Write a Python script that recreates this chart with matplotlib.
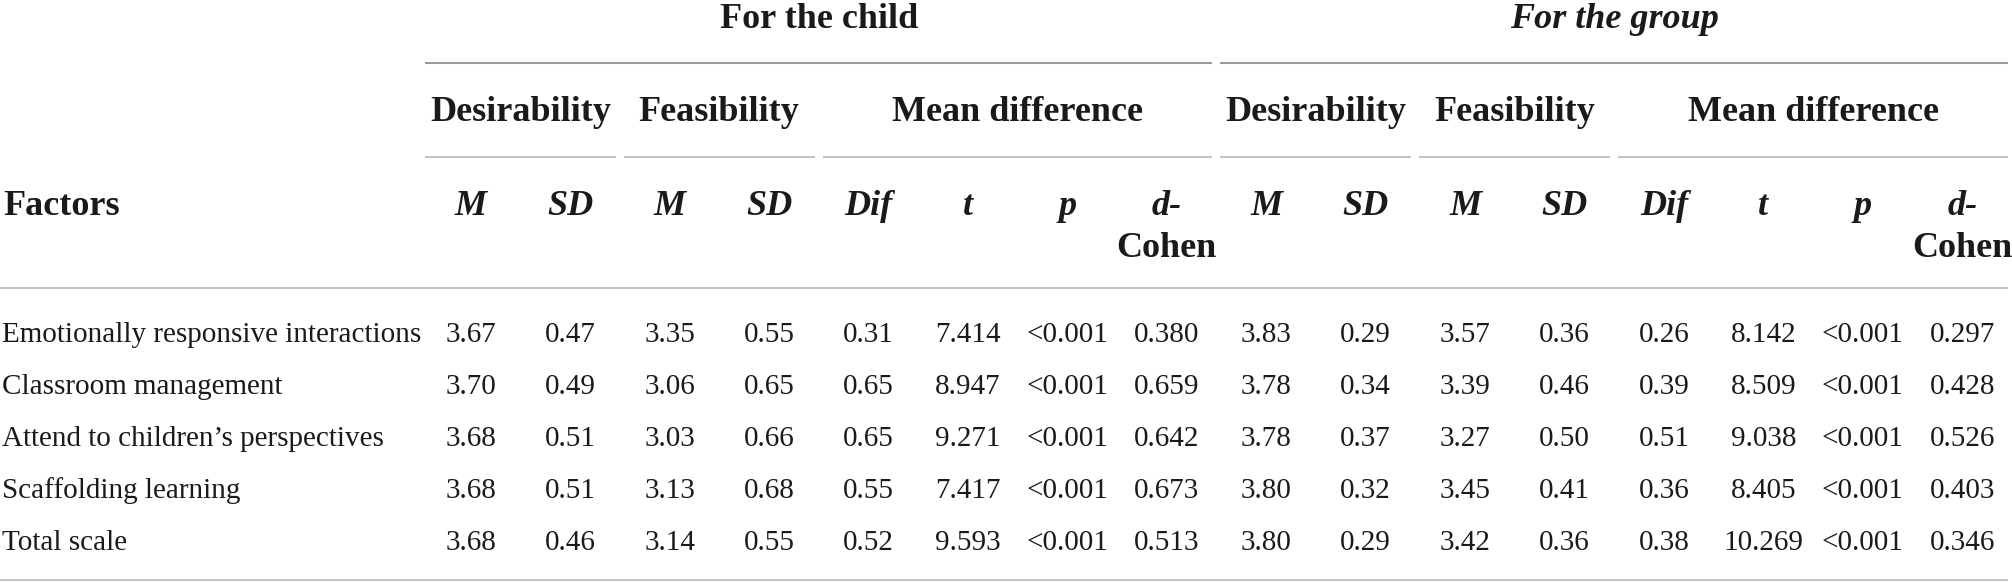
import matplotlib
matplotlib.use("Agg")
import matplotlib.pyplot as plt

# ---------------- data ----------------
factors = [
    "Emotionally responsive interactions",
    "Classroom management",
    "Attend to children\u2019s perspectives",
    "Scaffolding learning",
    "Total scale",
]
child_des_M = [3.67, 3.70, 3.68, 3.68, 3.68]
child_des_SD = [0.47, 0.49, 0.51, 0.51, 0.46]
child_fea_M = [3.35, 3.06, 3.03, 3.13, 3.14]
child_fea_SD = [0.55, 0.65, 0.66, 0.68, 0.55]
child_dif = [0.31, 0.65, 0.65, 0.55, 0.52]
child_t = [7.414, 8.947, 9.271, 7.417, 9.593]
child_p = ["<0.001", "<0.001", "<0.001", "<0.001", "<0.001"]
child_d = [0.380, 0.659, 0.642, 0.673, 0.513]

group_des_M = [3.83, 3.78, 3.78, 3.80, 3.80]
group_des_SD = [0.29, 0.34, 0.37, 0.32, 0.29]
group_fea_M = [3.57, 3.39, 3.27, 3.45, 3.42]
group_fea_SD = [0.36, 0.46, 0.50, 0.41, 0.36]
group_dif = [0.26, 0.39, 0.51, 0.36, 0.38]
group_t = [8.142, 8.509, 9.038, 8.405, 10.269]
group_p = ["<0.001", "<0.001", "<0.001", "<0.001", "<0.001"]
group_d = [0.297, 0.428, 0.526, 0.403, 0.346]

top_headers = ["For the child", "For the group"]
sub_headers = ["Desirability", "Feasibility", "Mean difference"]
col_headers = ["M", "SD", "M", "SD", "Dif", "t", "p", "d-"]

# ---------------- layout ----------------
W, H = 2012, 582
fig = plt.figure(figsize=(W / 100, H / 100), dpi=100)
ax = fig.add_axes([0, 0, 1, 1])
ax.set_xlim(0, W)
ax.set_ylim(H, 0)
ax.axis("off")

FONT = "Liberation Serif"
HS = 26      # header size
BS = 21      # body size
TXT = "#1a1a1a"

left0 = 421.0
cw = (W - left0) / 16.0
def cx(i):
    return left0 + (i + 0.5) * cw
def cl(i):
    return left0 + i * cw

dark = "#9a9a9a"
light = "#c4c4c4"
lw = 1.5

# top headers
for g, (name, style) in enumerate(zip(top_headers, ["normal", "italic"])):
    a, b = cl(8 * g) + 4, cl(8 * g + 8) - 4
    ax.text((a + b) / 2, 28, name, ha="center", va="baseline", fontsize=HS,
            fontweight="bold", fontstyle=style, family=FONT, color=TXT)
    ax.plot([a, b], [63, 63], color=dark, lw=lw, solid_capstyle="butt")

# sub headers
spans = [(0, 2), (2, 4), (4, 8)]
for g in range(2):
    for name, (s, e) in zip(sub_headers, spans):
        a, b = cl(8 * g + s) + 4, cl(8 * g + e) - 4
        ax.text((a + b) / 2, 121, name, ha="center", va="baseline", fontsize=HS,
                fontweight="bold", family=FONT, color=TXT)
        ax.plot([a, b], [157, 157], color=light, lw=lw, solid_capstyle="butt")

# column headers
ax.text(3, 215, "Factors", ha="left", va="baseline", fontsize=HS,
        fontweight="bold", family=FONT, color=TXT)
for g in range(2):
    for j, name in enumerate(col_headers):
        x = cx(8 * g + j)
        ax.text(x, 215, name, ha="center", va="baseline", fontsize=HS,
                fontweight="bold", fontstyle="italic", family=FONT, color=TXT)
        if name == "d-":
            ax.text(x, 257, "Cohen", ha="center", va="baseline", fontsize=HS,
                    fontweight="bold", family=FONT, color=TXT)

ax.plot([0, 2008], [288, 288], color=light, lw=lw, solid_capstyle="butt")

# body
cols = [
    [f"{v:.2f}" for v in child_des_M],
    [f"{v:.2f}" for v in child_des_SD],
    [f"{v:.2f}" for v in child_fea_M],
    [f"{v:.2f}" for v in child_fea_SD],
    [f"{v:.2f}" for v in child_dif],
    [f"{v:.3f}" for v in child_t],
    child_p,
    [f"{v:.3f}" for v in child_d],
    [f"{v:.2f}" for v in group_des_M],
    [f"{v:.2f}" for v in group_des_SD],
    [f"{v:.2f}" for v in group_fea_M],
    [f"{v:.2f}" for v in group_fea_SD],
    [f"{v:.2f}" for v in group_dif],
    [f"{v:.3f}" for v in group_t],
    group_p,
    [f"{v:.3f}" for v in group_d],
]
row_base = [342, 394, 446, 498, 550]
for r, name in enumerate(factors):
    y = row_base[r]
    ax.text(2, y, name, ha="left", va="baseline", fontsize=BS, family=FONT, color=TXT)
    for c, col in enumerate(cols):
        ax.text(cx(c), y, col[r], ha="center", va="baseline", fontsize=BS,
                family=FONT, color=TXT)

ax.plot([0, 2008], [580, 580], color=light, lw=lw, solid_capstyle="butt")

fig.savefig("out.png", dpi=100, facecolor="white")
